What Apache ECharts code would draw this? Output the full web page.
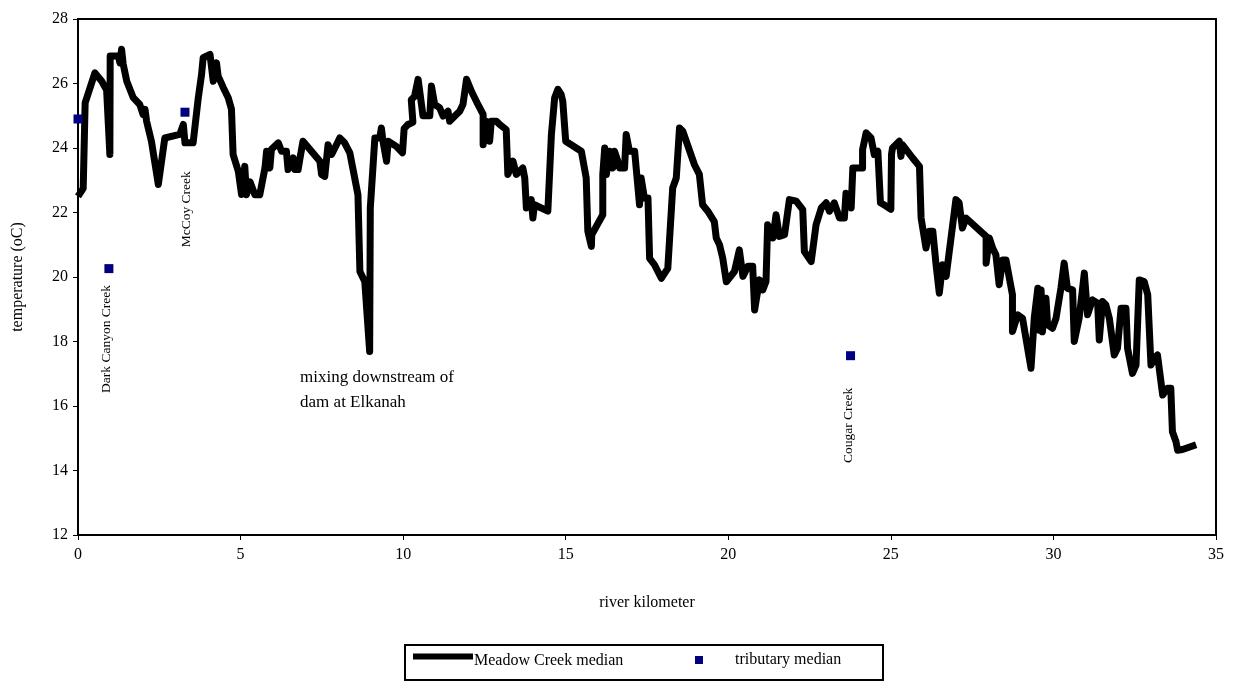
<!DOCTYPE html>
<html>
<head>
<meta charset="utf-8">
<script src="https://cdn.jsdelivr.net/npm/echarts@6/dist/echarts.min.js"></script>
<style>html,body{margin:0;padding:0;background:#fff}#c{width:1239px;height:683px}</style>
</head>
<body>
<div id="c"></div>
<script>
const meadowKm = [0,0.16,0.22,0.52,0.73,0.88,0.98,0.99,1.24,1.29,1.34,1.39,1.5,1.7,1.9,2.0,2.06,2.11,2.26,2.47,2.67,3.13,3.24,3.29,3.54,3.7,3.8,3.85,4.06,4.16,4.26,4.31,4.47,4.62,4.72,4.77,4.93,5.03,5.13,5.18,5.29,5.44,5.59,5.75,5.8,5.9,5.95,6.16,6.26,6.41,6.46,6.62,6.67,6.77,6.82,6.92,7.44,7.49,7.59,7.69,7.8,7.95,8.05,8.2,8.36,8.51,8.61,8.67,8.82,8.97,8.99,9.13,9.28,9.33,9.38,9.49,9.54,9.79,9.98,10.03,10.15,10.3,10.25,10.35,10.46,10.51,10.61,10.82,10.87,10.97,11.12,11.23,11.38,11.43,11.59,11.74,11.84,11.95,12.1,12.3,12.46,12.46,12.56,12.66,12.71,12.87,12.97,13.17,13.22,13.38,13.48,13.68,13.74,13.79,13.94,13.99,14.04,14.45,14.56,14.66,14.76,14.86,14.91,14.97,15.0,15.48,15.63,15.68,15.79,15.8,16.14,16.14,16.2,16.25,16.35,16.45,16.5,16.6,16.66,16.81,16.86,16.96,17.12,17.27,17.32,17.42,17.53,17.58,17.73,17.94,18.14,18.29,18.4,18.5,18.6,18.96,19.11,19.21,19.37,19.57,19.63,19.73,19.83,19.94,20.19,20.34,20.45,20.6,20.75,20.81,20.96,21.06,21.16,21.21,21.37,21.47,21.57,21.73,21.88,22.09,22.29,22.34,22.55,22.7,22.86,23.01,23.11,23.26,23.42,23.57,23.62,23.78,23.83,24.13,24.13,24.24,24.39,24.49,24.6,24.68,24.85,25.0,25.02,25.05,25.26,25.31,25.36,25.67,25.88,25.93,26.08,26.18,26.29,26.39,26.49,26.59,26.7,27.0,27.1,27.2,27.31,27.93,27.93,28.03,28.13,28.23,28.33,28.44,28.54,28.74,28.74,28.9,29.05,29.31,29.41,29.52,29.56,29.62,29.66,29.77,29.82,29.97,30.08,30.23,30.33,30.43,30.59,30.64,30.79,30.95,31.05,31.2,31.36,31.41,31.51,31.61,31.72,31.87,31.97,32.08,32.23,32.28,32.43,32.54,32.64,32.79,32.9,33.0,33.1,33.2,33.36,33.51,33.61,33.66,33.77,33.82,33.97,34.39];
const meadowT = [22.5,22.75,25.4,26.33,26.07,25.8,23.8,26.85,26.85,26.64,27.06,26.6,26.07,25.56,25.35,25.04,25.2,24.83,24.2,22.87,24.31,24.42,24.73,24.16,24.16,25.56,26.28,26.8,26.9,26.07,26.64,26.23,25.87,25.56,25.2,23.8,23.28,22.56,23.43,22.55,22.95,22.55,22.55,23.38,23.9,23.38,23.96,24.16,23.9,23.9,23.33,23.69,23.33,23.33,23.64,24.21,23.59,23.18,23.12,24.1,23.8,24.1,24.31,24.16,23.85,23.07,22.55,20.17,19.86,17.69,22.14,24.31,24.31,24.62,24.21,23.59,24.21,24.05,23.85,24.6,24.73,24.8,25.5,25.6,26.13,26.13,25.0,25.0,25.92,25.35,25.25,24.99,25.14,24.83,24.99,25.14,25.35,26.13,25.76,25.35,25.04,24.1,24.83,24.21,24.83,24.83,24.73,24.57,23.18,23.59,23.18,23.38,23.07,22.14,22.4,21.83,22.24,22.04,24.42,25.56,25.82,25.66,25.45,24.62,24.21,23.9,23.07,21.42,20.95,21.31,21.93,23.18,24.0,23.18,23.9,23.38,23.9,23.6,23.38,23.38,24.42,23.9,23.9,22.24,23.07,22.45,22.45,20.58,20.38,19.96,20.27,22.76,23.07,24.62,24.52,23.48,23.18,22.24,22.04,21.72,21.21,21.0,20.58,19.85,20.17,20.84,20.02,20.33,20.33,18.98,19.91,19.6,19.86,21.62,21.21,21.93,21.26,21.31,22.4,22.35,22.09,20.79,20.48,21.62,22.14,22.3,22.04,22.3,21.83,21.83,22.6,22.14,23.38,23.38,23.95,24.47,24.31,23.8,23.9,22.3,22.2,22.1,23.8,24.0,24.21,23.74,24.1,23.69,23.43,21.83,20.9,21.42,21.42,20.38,19.5,20.38,20.02,22.4,22.3,21.52,21.83,21.26,20.43,21.21,20.9,20.69,19.76,20.53,20.53,19.45,18.31,18.83,18.72,17.17,18.72,19.65,18.35,19.6,18.3,19.34,18.52,18.41,18.72,19.65,20.43,19.65,19.6,18.0,18.72,20.12,18.83,19.29,19.19,18.05,19.24,19.14,18.72,17.58,17.79,19.03,19.03,17.79,17.01,17.27,19.91,19.86,19.45,17.27,17.48,17.58,16.34,16.55,16.55,15.2,14.89,14.63,14.65,14.8];
const tribKm = [0, 0.95, 3.29, 23.76];
const tribT = [24.9, 20.26, 25.11, 17.56];
const tribNames = ['', 'Dark Canyon Creek', 'McCoy Creek', 'Cougar Creek'];
const xTicks = [0, 5, 10, 15, 20, 25, 30, 35];
const yTicks = [12, 14, 16, 18, 20, 22, 24, 26, 28];
const seriesNames = ['Meadow Creek median', 'tributary median'];
const axisTitles = ['river kilometer', 'temperature (oC)'];
const noteLines = ['mixing downstream of', 'dam at Elkanah'];

const FONT = '"Liberation Serif", "Times New Roman", serif';
const chart = echarts.init(document.getElementById('c'), null, {renderer: 'canvas'});
const lineData = meadowKm.map((k, i) => [k, meadowT[i]]);
const tribData = tribKm.map((k, i) => [k, tribT[i]]);

chart.setOption({
  animation: false,
  backgroundColor: '#fff',
  grid: {left: 78, right: 23, top: 19, bottom: 148, show: true, borderColor: '#000', borderWidth: 2, backgroundColor: 'transparent'},
  xAxis: {
    type: 'value', min: xTicks[0], max: xTicks[xTicks.length - 1], interval: 5,
    name: axisTitles[0], nameLocation: 'middle', nameGap: 60,
    nameTextStyle: {fontFamily: FONT, fontSize: 16, color: '#000'},
    axisLine: {show: true, lineStyle: {color: '#000', width: 2}},
    axisTick: {show: true, inside: false, length: 5, lineStyle: {color: '#000'}},
    axisLabel: {fontFamily: FONT, fontSize: 16, color: '#000', margin: 12},
    splitLine: {show: false}
  },
  yAxis: {
    type: 'value', min: yTicks[0], max: yTicks[yTicks.length - 1], interval: 2,
    name: axisTitles[1], nameLocation: 'middle', nameGap: 52,
    nameTextStyle: {fontFamily: FONT, fontSize: 16, color: '#000'},
    axisLine: {show: true, lineStyle: {color: '#000', width: 2}},
    axisTick: {show: true, inside: false, length: 5, lineStyle: {color: '#000'}},
    axisLabel: {fontFamily: FONT, fontSize: 16, color: '#000', margin: 10},
    splitLine: {show: false}
  },
  legend: [
    {data: [{name: seriesNames[0], icon: 'rect'}], left: 408, top: 648, itemWidth: 60, itemHeight: 6, itemGap: 0,
     formatter: '{t|{name}}',
     textStyle: {fontFamily: FONT, fontSize: 16, color: '#000', padding: [0, 0, 0, -4],
       rich: {t: {fontFamily: FONT, fontSize: 16, color: '#000', padding: [9, 0, 0, 0]}}}},
    {data: [{name: seriesNames[1], icon: 'rect'}], left: 690, top: 647, itemWidth: 8, itemHeight: 8,
     itemStyle: {opacity: 1},
     textStyle: {fontFamily: FONT, fontSize: 16, color: '#000', padding: [0, 0, 0, 27]}}
  ],
  series: [
    {name: seriesNames[0], type: 'line', data: lineData, showSymbol: false, symbol: 'none',
     lineStyle: {color: '#000', width: 7, join: 'round', cap: 'butt'}, itemStyle: {color: '#000'}, z: 2},
    {name: seriesNames[1], type: 'scatter', data: tribData, symbol: 'rect', symbolSize: 9, clip: false,
     itemStyle: {color: '#000080', opacity: 1}, z: 3}
  ]
});

// annotations positioned via the chart's own coordinate conversion
const labelAnchors = [null, [0.89, 18.08], [3.35, 22.1], [23.69, 15.4]];
const graphics = [];
tribNames.forEach((n, i) => {
  if (!n) return;
  const p = chart.convertToPixel({gridIndex: 0}, labelAnchors[i]);
  graphics.push({type: 'text', x: p[0], y: p[1], rotation: Math.PI / 2,
    style: {text: n, fontFamily: FONT, fontSize: 13.5, fill: '#000', align: 'center', verticalAlign: 'middle'}, z: 10});
});
const notePos = chart.convertToPixel({gridIndex: 0}, [6.83, 16.5]);
graphics.push({type: 'text', x: notePos[0], y: notePos[1],
  style: {text: noteLines.join('\n'), fontFamily: FONT, fontSize: 17, lineHeight: 25, fill: '#000', align: 'left', verticalAlign: 'middle'}, z: 10});
graphics.push({type: 'rect', shape: {x: 405, y: 645, width: 478, height: 35},
  style: {fill: 'none', stroke: '#000', lineWidth: 2}, z: 1});
chart.setOption({graphic: graphics});
</script>
</body>
</html>
